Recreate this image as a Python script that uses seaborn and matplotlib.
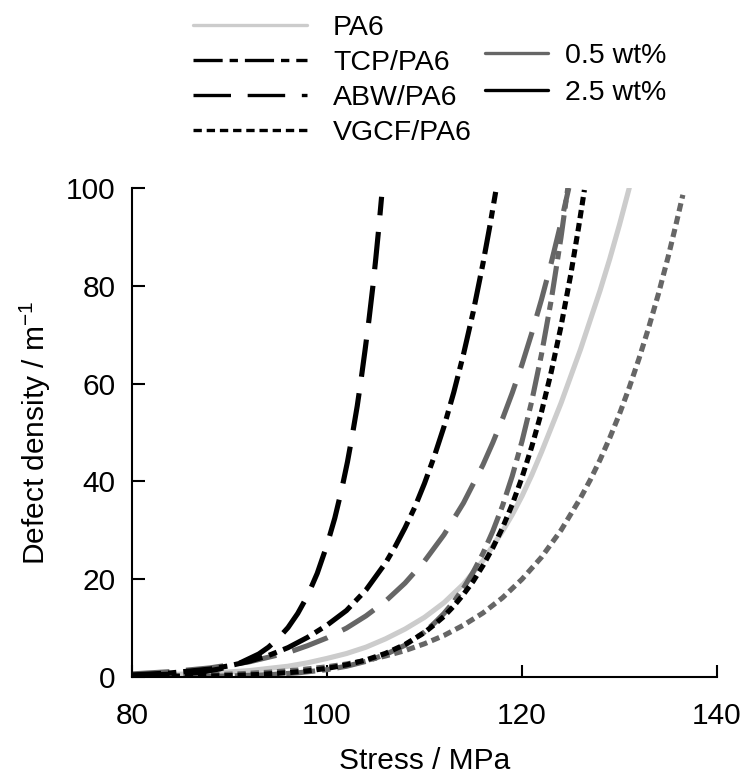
import matplotlib
matplotlib.use("Agg")
import matplotlib.pyplot as plt
from matplotlib.lines import Line2D
import seaborn as sns
import pandas as pd

# ---------------- data ----------------
pa6_stress = [80, 84, 88, 92, 96, 98, 100, 102, 104, 106, 108, 110, 112, 114, 116, 118, 119, 120,
              121, 122, 123, 124, 125, 126, 127, 128, 129, 130, 131]
pa6_density = [0.3, 0.5, 0.8, 1.3, 2.2, 2.9, 3.8, 4.8, 6.1, 7.8, 9.8, 12.2, 15.2, 19.0, 23.8, 29.8, 33.2, 37,
               41.3, 46, 51, 56, 61.5, 67, 73, 79, 85.5, 92.5, 100]

tcp05_stress = [80, 86, 90, 94, 97, 100, 102, 104, 106, 108, 110, 111, 112, 113, 114, 115, 116, 117,
                118, 119, 120, 121, 122, 123, 124, 124.7]
tcp05_density = [0.02, 0.09, 0.2, 0.47, 0.85, 1.5, 2.2, 3.2, 4.6, 6.5, 9.2, 11.0, 13.0, 15.4, 18.2, 21.5, 25.3, 29.8,
                 35.0, 41.1, 48.2, 56.4, 66.0, 77.1, 89.9, 100]

tcp25_stress = [80, 84, 88, 90, 92, 94, 96, 98, 100, 102, 104, 106, 107, 108, 109, 110, 111, 112,
                113, 114, 115, 116, 116.7, 117.3]
tcp25_density = [0.42, 0.84, 1.63, 2.3, 3.2, 4.4, 6.0, 8.1, 10.6, 13.6, 17.8, 23.3, 26.7, 30.5, 34.7, 39.6, 45.1, 51.2,
                 58.2, 66.0, 74.7, 84.6, 92.2, 99.2]

abw05_stress = [80, 84, 88, 92, 96, 98, 100, 102, 104, 106, 108, 110, 112, 114, 116, 117, 118, 119,
                120, 121, 122, 123, 124, 124.8]
abw05_density = [0.63, 1.1, 1.86, 3.09, 5.0, 6.4, 8.0, 10.0, 12.5, 15.5, 19.2, 23.7, 29.1, 35.6, 43.4, 47.9, 52.8, 58.1,
                 63.9, 70.3, 77.2, 84.7, 92.9, 100]

abw25_stress = [80, 83, 85, 87, 89, 91, 93, 94, 95, 96, 97, 98, 99, 100, 100.8, 101.5, 102.1, 102.6,
                103.1, 103.5, 103.9, 104.3, 104.7, 105.0, 105.3, 105.6]
abw25_density = [0.3, 0.5, 0.65, 0.96, 1.65, 2.8, 4.7, 6.1, 7.9, 10.1, 13.0, 16.6, 21.2, 27.0, 32.5, 38.3, 44.0, 49.5,
                 55.4, 60.9, 66.8, 73.0, 79.8, 85.5, 91.6, 98.2]

vgcf05_stress = [80, 84, 88, 91, 94, 97, 100, 102, 104, 106, 108, 110, 112, 114, 116, 118, 120, 122,
                 124, 126, 127, 128, 129, 130, 131, 132, 133, 134, 135, 135.8, 136.5]
vgcf05_density = [0.13, 0.24, 0.43, 0.65, 0.97, 1.43, 2.08, 2.66, 3.38, 4.3, 5.4, 6.8, 8.5, 10.6, 13.1, 16.2, 20.0, 24.5,
                  30.0, 36.6, 40.3, 44.4, 48.9, 53.8, 59.2, 65.1, 71.5, 78.4, 86.0, 92.6, 98.6]

vgcf25_stress = [80, 86, 90, 93, 96, 98, 100, 102, 104, 106, 108, 110, 111, 112, 113, 114, 115, 116,
                 117, 118, 119, 120, 121, 122, 123, 124, 125, 125.8, 126.4]
vgcf25_density = [0.04, 0.13, 0.29, 0.51, 0.88, 1.25, 1.77, 2.49, 3.48, 4.83, 6.65, 9.1, 10.7, 12.4, 14.5, 16.9, 19.6, 22.8,
                  26.4, 30.5, 35.3, 40.8, 47.1, 54.2, 62.4, 71.7, 82.3, 91.9, 99.6]

material_labels = ["PA6", "TCP/PA6", "ABW/PA6", "VGCF/PA6"]
content_labels = ["0.5 wt%", "2.5 wt%"]
x_ticks = [80, 100, 120, 140]
y_ticks = [0, 20, 40, 60, 80, 100]

# ---------------- styles ----------------
LIGHT = "#cccccc"
GRAY = "#666666"
BLACK = "#000000"
long_dash = (27, 12)
dash_dot = (21, 5, 6, 5)
dotted = (6, 3.5)

series = [
    ("PA6", pa6_stress, pa6_density, LIGHT, ""),
    ("VGCF 0.5", vgcf05_stress, vgcf05_density, GRAY, dotted),
    ("ABW 0.5", abw05_stress, abw05_density, GRAY, long_dash),
    ("TCP 0.5", tcp05_stress, tcp05_density, GRAY, dash_dot),
    ("VGCF 2.5", vgcf25_stress, vgcf25_density, BLACK, dotted),
    ("TCP 2.5", tcp25_stress, tcp25_density, BLACK, dash_dot),
    ("ABW 2.5", abw25_stress, abw25_density, BLACK, long_dash),
]

frames = []
for name, xs, ys, _, _ in series:
    frames.append(pd.DataFrame({"stress": xs, "density": ys, "series": name}))
df = pd.concat(frames, ignore_index=True)
order = [s[0] for s in series]
palette = {s[0]: s[3] for s in series}
dash_map = {s[0]: s[4] for s in series}

sns.set_style("ticks")
plt.rcParams["font.family"] = ["Liberation Sans", "DejaVu Sans"]
plt.rcParams["lines.scale_dashes"] = False
plt.rcParams["lines.dash_capstyle"] = "butt"
plt.rcParams["lines.solid_joinstyle"] = "round"
plt.rcParams["lines.dash_joinstyle"] = "round"
plt.rcParams["text.color"] = "black"
plt.rcParams["axes.labelcolor"] = "black"
plt.rcParams["xtick.color"] = "black"
plt.rcParams["ytick.color"] = "black"

W, H = 747, 778
FS = 21.5
fig = plt.figure(figsize=(W / 100, H / 100), dpi=100)
ax = fig.add_axes([132 / W, 1 - 677 / H, (717 - 132) / W, (677 - 188) / H])

sns.lineplot(data=df, x="stress", y="density", hue="series", style="series",
             hue_order=order, style_order=order, palette=palette, dashes=dash_map,
             linewidth=3.7, estimator=None, sort=False, legend=False, ax=ax)

ax.set_xlim(80, 140)
ax.set_ylim(0, 100)
ax.set_xticks(x_ticks)
ax.set_yticks(y_ticks)
ax.set_xticklabels([str(v) for v in x_ticks])
ax.set_yticklabels([str(v) for v in y_ticks])
for s in ["top", "right"]:
    ax.spines[s].set_visible(False)
for s in ["left", "bottom"]:
    ax.spines[s].set_linewidth(1.5)
    ax.spines[s].set_color("black")
ax.tick_params(axis="both", direction="in", length=9, width=1.5, labelsize=FS,
               colors="black", labelcolor="black")
ax.tick_params(axis="x", pad=18)
ax.tick_params(axis="y", pad=12)
ax.set_xlabel("Stress / MPa", fontsize=FS, labelpad=12, color="black")
ax.set_ylabel("Defect density / m$^{\\mathregular{-1}}$", fontsize=FS, labelpad=9, color="black")

# ---------------- legends (drawn in figure pixel positions) ----------------
def fx(px):
    return px / W

def fy(py):
    return 1 - py / H

leg1 = [
    (material_labels[0], LIGHT, "-"),
    (material_labels[1], BLACK, dash_dot),
    (material_labels[2], BLACK, long_dash),
    (material_labels[3], BLACK, dotted),
]
rows1 = [25, 60, 95, 130]
LFS = 20.5
for (lab, col, ls), ry in zip(leg1, rows1):
    kw = dict(color=col, linewidth=2.4, transform=fig.transFigure)
    if ls == "-":
        line = Line2D([fx(193), fx(307)], [fy(ry), fy(ry)], linestyle="-", **kw)
    else:
        line = Line2D([fx(193), fx(307)], [fy(ry), fy(ry)], linestyle=(0, ls), **kw)
    fig.add_artist(line)
    fig.text(fx(333), fy(ry + 10), lab, fontsize=LFS, ha="left", va="baseline", color="black")

rows2 = [53, 90]
for lab, col, ry in zip(content_labels, [GRAY, BLACK], rows2):
    fig.add_artist(Line2D([fx(485), fx(548)], [fy(ry), fy(ry)], color=col,
                          linewidth=2.4, transform=fig.transFigure))
    fig.text(fx(565), fy(ry + 10), lab, fontsize=LFS, ha="left", va="baseline", color="black")

fig.savefig("out.png", dpi=100)
